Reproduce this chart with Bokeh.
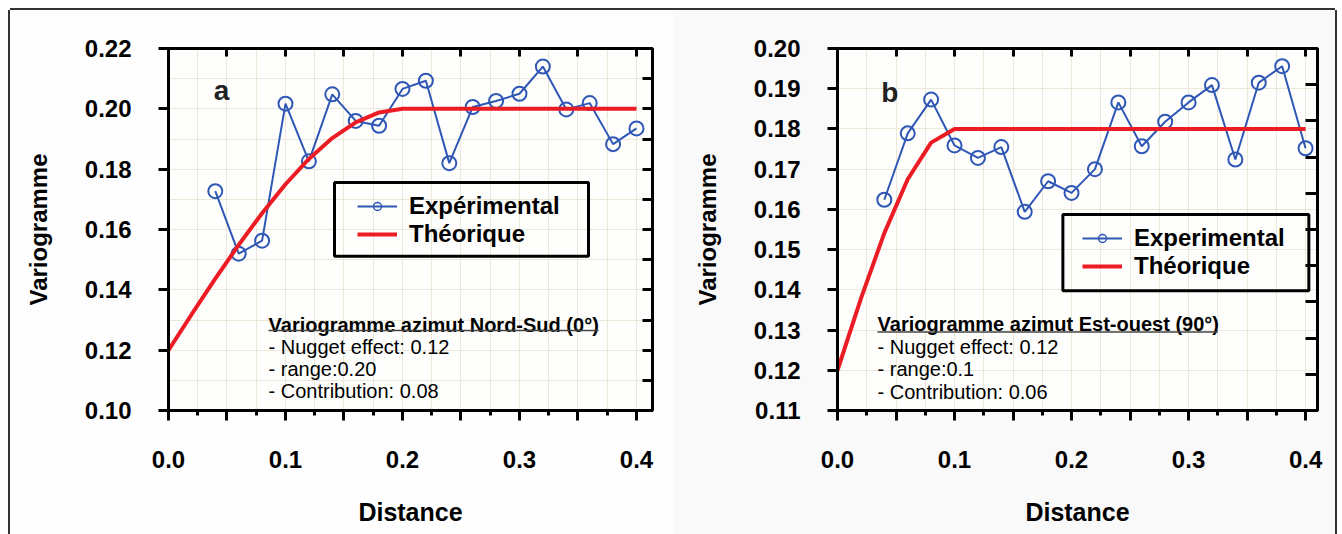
from bokeh.plotting import figure
from bokeh.models import (ColumnDataSource, LinearAxis, FixedTicker, CustomJSTickFormatter,
                          Label, Legend, LegendItem, BoxAnnotation, Arrow, Range1d)
from bokeh.layouts import row
from bokeh.embed import file_html
from bokeh.resources import INLINE

# ---------------- data ----------------
lags = [0.04, 0.06, 0.08, 0.10, 0.12, 0.14, 0.16, 0.18, 0.20, 0.22,
        0.24, 0.26, 0.28, 0.30, 0.32, 0.34, 0.36, 0.38, 0.40]

exp_a = [0.1727, 0.1520, 0.1563, 0.2017, 0.1826, 0.2048, 0.1960, 0.1944, 0.2066, 0.2093,
         0.1820, 0.2006, 0.2026, 0.2050, 0.2140, 0.1998, 0.2019, 0.1883, 0.1935]
theo_a_h = [0.0, 0.02, 0.04, 0.06, 0.08, 0.10, 0.12, 0.14, 0.16, 0.18, 0.20, 0.40]
theo_a = [0.1200, 0.1320, 0.1437, 0.1549, 0.1654, 0.1750, 0.1834, 0.1903, 0.1955, 0.1988, 0.2000, 0.2000]

exp_b = [0.1624, 0.1789, 0.1873, 0.1759, 0.1728, 0.1755, 0.1594, 0.1670, 0.1641, 0.1700,
         0.1866, 0.1757, 0.1818, 0.1866, 0.1909, 0.1724, 0.1915, 0.1956, 0.1752]
theo_b_h = [0.0, 0.02, 0.04, 0.06, 0.08, 0.10, 0.40]
theo_b = [0.1200, 0.1378, 0.1541, 0.1675, 0.1766, 0.1800, 0.1800]

x_major = [0.0, 0.05, 0.10, 0.15, 0.20, 0.25, 0.30, 0.35, 0.40]
x_minor = [0.025, 0.075, 0.125, 0.175, 0.225, 0.275, 0.325, 0.375]
x_grid = [0.025, 0.05, 0.075, 0.10, 0.125, 0.15, 0.175, 0.20, 0.225, 0.25,
          0.275, 0.30, 0.325, 0.35, 0.375, 0.40]
x_top = [0.05, 0.10, 0.15, 0.20, 0.25, 0.30, 0.35, 0.40]

y_ticks_a = [0.10, 0.12, 0.14, 0.16, 0.18, 0.20, 0.22]
y_grid_a = [0.11, 0.12, 0.13, 0.14, 0.15, 0.16, 0.17, 0.18, 0.19, 0.20, 0.21]
y_right_a = [0.11, 0.12, 0.13, 0.14, 0.15, 0.16, 0.17, 0.18, 0.19, 0.20, 0.21]

y_ticks_b = [0.11, 0.12, 0.13, 0.14, 0.15, 0.16, 0.17, 0.18, 0.19, 0.20]
y_grid_b = [0.12, 0.13, 0.14, 0.15, 0.16, 0.17, 0.18, 0.19]
y_right_b = [0.119, 0.128, 0.137, 0.146, 0.155, 0.164, 0.173, 0.182, 0.191]

legend_a = ["Expérimental", "Théorique"]
legend_b = ["Experimental", "Théorique"]
notes_a = ["Variogramme azimut Nord-Sud (0°)", "- Nugget effect: 0.12", "- range:0.20", "- Contribution: 0.08"]
notes_b = ["Variogramme azimut Est-ouest (90°)", "- Nugget effect: 0.12", "- range:0.1", "- Contribution: 0.06"]

# ---------------- style ----------------
FONT = "Liberation Sans"
BLUE = "#2f57b5"
RED = "#ec1c24"
GRID = "#ebe7d9"

x_fmt = CustomJSTickFormatter(code="""
const r = Math.round(tick * 10);
return Math.abs(tick * 10 - r) < 1e-6 ? (r / 10).toFixed(1) : '';
""")
y_fmt = CustomJSTickFormatter(code="return tick.toFixed(2);")


def panel(cfg):
    p = figure(width=cfg["width"], height=524,
               x_range=Range1d(0, cfg["xmax"]), y_range=Range1d(cfg["ymin"], cfg["ymax"]),
               min_border_left=cfg["mbl"], min_border_right=cfg["mbr"],
               min_border_top=38, min_border_bottom=124,
               output_backend="svg", toolbar_location=None)
    p.background_fill_color = "#fefefd"
    p.border_fill_color = cfg["bg"]
    p.outline_line_color = "black"
    p.outline_line_width = 3

    # grid
    p.xgrid.ticker = FixedTicker(ticks=x_grid)
    p.ygrid.ticker = FixedTicker(ticks=cfg["ygrid"])
    p.grid.grid_line_color = GRID
    p.grid.grid_line_width = 1

    # bottom axis
    xa = p.xaxis[0]
    xa.ticker = FixedTicker(ticks=x_major, minor_ticks=x_minor)
    xa.formatter = x_fmt
    xa.axis_line_width = 3
    xa.major_tick_line_width = 3
    xa.minor_tick_line_width = 3
    xa.major_tick_out = 10
    xa.major_tick_in = 0
    xa.minor_tick_out = 5
    xa.minor_tick_in = 0
    xa.major_label_standoff = 30
    xa.major_label_text_font = FONT
    xa.major_label_text_font_style = "bold"
    xa.major_label_text_font_size = "24px"
    xa.major_label_text_color = "black"
    xa.axis_label = "Distance"
    xa.axis_label_text_font = FONT
    xa.axis_label_text_font_style = "bold"
    xa.axis_label_text_font_size = "25px"
    xa.axis_label_text_color = "black"
    xa.axis_label_standoff = 27

    # left axis
    ya = p.yaxis[0]
    ya.ticker = FixedTicker(ticks=cfg["yticks"], minor_ticks=[])
    ya.formatter = y_fmt
    ya.axis_line_width = 3
    ya.major_tick_line_width = 3
    ya.minor_tick_line_color = None
    ya.major_tick_out = 10
    ya.major_tick_in = 0
    ya.major_label_standoff = 27
    ya.major_label_text_font = FONT
    ya.major_label_text_font_style = "bold"
    ya.major_label_text_font_size = "24px"
    ya.major_label_text_color = "black"
    ya.axis_label = "Variogramme"
    ya.axis_label_text_font = FONT
    ya.axis_label_text_font_style = "bold"
    ya.axis_label_text_font_size = "24px"
    ya.axis_label_text_color = "black"
    ya.axis_label_standoff = 30

    # top axis: inward ticks only (drawn as minor ticks -> no labels)
    top = LinearAxis(ticker=FixedTicker(ticks=[], minor_ticks=x_top),
                     minor_tick_in=8, minor_tick_out=0, minor_tick_line_width=3,
                     major_tick_line_color=None, axis_line_width=3,
                     major_label_standoff=0)
    p.add_layout(top, "above")
    # right axis: inward ticks only
    right = LinearAxis(ticker=FixedTicker(ticks=[], minor_ticks=cfg["yright"]),
                       minor_tick_in=cfg["rtick"], minor_tick_out=0, minor_tick_line_width=3,
                       major_tick_line_color=None, axis_line_width=3,
                       major_label_standoff=0)
    p.add_layout(right, "right")

    # data
    src_e = ColumnDataSource(dict(x=lags, y=cfg["exp"]))
    src_t = ColumnDataSource(dict(x=cfg["th"], y=cfg["theo"]))
    l_e = p.line("x", "y", source=src_e, line_color=BLUE, line_width=2)
    p.scatter("x", "y", source=src_e, marker="circle", size=14, line_color=BLUE,
              line_width=2, fill_color=None)
    m_leg = p.scatter("x", "y", source=src_e, marker="circle", size=5, line_color=BLUE,
                      line_width=1.5, fill_color=None, visible=False)
    l_t = p.line("x", "y", source=src_t, line_color=RED, line_width=4)

    # legend
    leg = Legend(items=[LegendItem(label=cfg["legend"][0], renderers=[l_e, m_leg]),
                        LegendItem(label=cfg["legend"][1], renderers=[l_t])],
                 location=cfg["legloc"], border_line_color=None, background_fill_alpha=0,
                 padding=0, spacing=0, margin=0, glyph_width=40, glyph_height=20,
                 label_standoff=12, label_height=28,
                 label_text_font=FONT, label_text_font_style="bold",
                 label_text_font_size="24px", label_text_color="black")
    p.add_layout(leg, "center")
    bl, br, bb, bt = cfg["legbox"]
    p.add_layout(BoxAnnotation(left=bl, right=br, bottom=bb, top=bt, fill_color=None,
                               line_color="black", line_width=3, line_alpha=1))

    # panel letter
    lx, ly = cfg["letter_pos"]
    p.add_layout(Label(x=lx, y=ly, text=cfg["letter"], text_font=FONT, text_font_style="bold",
                       text_font_size="28px", text_align="center", text_baseline="middle",
                       text_color="#222222"))

    # notes
    nx = cfg["note_x"]
    for i, (txt, yy) in enumerate(zip(cfg["notes"], cfg["note_y"])):
        p.add_layout(Label(x=nx, y=yy, text=txt, text_font=FONT,
                           text_font_style="bold" if i == 0 else "normal",
                           text_font_size="20px", text_align="left", text_baseline="middle",
                           text_color="black"))
    ux0, ux1, uy = cfg["underline"]
    p.add_layout(Arrow(end=None, x_start=ux0, y_start=uy, x_end=ux1, y_end=uy,
                       line_color="#444444", line_width=1.5))
    return p


pa = panel(dict(width=662, xmax=0.4137, ymin=0.10, ymax=0.22, mbl=158, mbr=20,
                bg="#fefefe", ygrid=y_grid_a, yticks=y_ticks_a, yright=y_right_a, rtick=10,
                exp=exp_a, th=theo_a_h, theo=theo_a, legend=legend_a,
                legloc=(189, 162), legbox=(0.1419, 0.3590, 0.1511, 0.1756),
                letter="a", letter_pos=(0.0453, 0.2061),
                notes=notes_a, note_x=0.0855, note_y=[0.1285, 0.1212, 0.1139, 0.1063],
                underline=(0.0855, 0.3675, 0.1265)))

pb = panel(dict(width=663, xmax=0.4102, ymin=0.11, ymax=0.20, mbl=165, mbr=18,
                bg="#f9f9f9", ygrid=y_grid_b, yticks=y_ticks_b, yright=y_right_b, rtick=12,
                exp=exp_b, th=theo_b_h, theo=theo_b, legend=legend_b,
                legloc=(245, 130), legbox=(0.1926, 0.4028, 0.1398, 0.1587),
                letter="b", letter_pos=(0.0447, 0.1891),
                notes=notes_b, note_x=0.0342, note_y=[0.1314, 0.1259, 0.1204, 0.1147],
                underline=(0.0342, 0.3250, 0.1295)))

layout = row(pa, pb, styles={"margin": "10px 0 0 10px",
                             "box-shadow": "0 -2px 0 0 #333333, -2px 0 0 0 #333333, 2px 0 0 0 #333333"})

open("out.html", "w").write(file_html(layout, INLINE))
